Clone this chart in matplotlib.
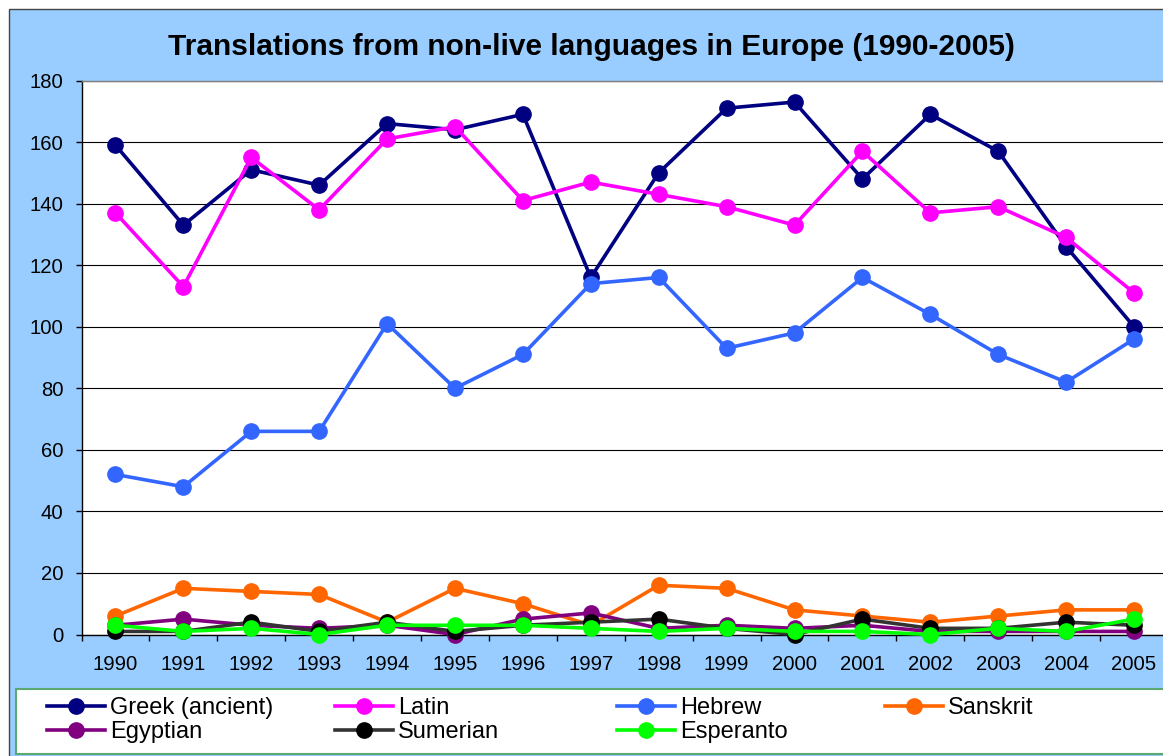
import matplotlib
matplotlib.use("Agg")
import matplotlib.pyplot as plt
from matplotlib.patches import Rectangle
import numpy as np

plt.rcParams['font.family'] = ['Liberation Sans', 'DejaVu Sans']

years = [str(y) for y in range(1990, 2006)]
greek = [159, 133, 151, 146, 166, 164, 169, 116, 150, 171, 173, 148, 169, 157, 126, 100]
latin = [137, 113, 155, 138, 161, 165, 141, 147, 143, 139, 133, 157, 137, 139, 129, 111]
hebrew = [52, 48, 66, 66, 101, 80, 91, 114, 116, 93, 98, 116, 104, 91, 82, 96]
sanskrit = [6, 15, 14, 13, 4, 15, 10, 3, 16, 15, 8, 6, 4, 6, 8, 8]
egyptian = [3, 5, 3, 2, 3, 0, 5, 7, 2, 3, 2, 3, 1, 1, 1, 1]
sumerian = [1, 1, 4, 1, 4, 1, 3, 4, 5, 2, 0, 5, 2, 2, 4, 3]
esperanto = [3, 1, 2, 0, 3, 3, 3, 2, 1, 2, 1, 1, 0, 2, 1, 5]

series_names = ["Greek (ancient)", "Latin", "Hebrew", "Sanskrit", "Egyptian", "Sumerian", "Esperanto"]
series_values = [greek, latin, hebrew, sanskrit, egyptian, sumerian, esperanto]
line_colors = ["#000080", "#FF00FF", "#3366FF", "#FF6600", "#800080", "#333333", "#00FF00"]
marker_colors = ["#000080", "#FF00FF", "#3366FF", "#FF6600", "#800080", "#000000", "#00FF00"]
yticks = [0, 20, 40, 60, 80, 100, 120, 140, 160, 180]
title = "Translations from non-live languages in Europe (1990-2005)"

W, H = 1163, 756
fig = plt.figure(figsize=(W / 100, H / 100), dpi=100)
fig.patch.set_facecolor("white")

# outer blue chart area
fig.patches.append(Rectangle((9 / W, -0.02), 1.1, (H - 9) / H + 0.02, transform=fig.transFigure,
                             facecolor="#99CCFF", edgecolor="#444444", linewidth=1.0, zorder=0))
# legend box
fig.patches.append(Rectangle((15.5 / W, (H - 754) / H), 1.1, (754 - 689) / H, transform=fig.transFigure,
                             facecolor="white", edgecolor="#5BA870", linewidth=1.5, zorder=1))

left, right, top, bottom = 81.5, 1168, 80.5, 634.5
ax = fig.add_axes([left / W, (H - bottom) / H, (right - left) / W, (bottom - top) / H])
ax.set_facecolor("white")
ax.set_zorder(3)

x = np.arange(len(years))
handles = []
for name, vals, lc, mc in zip(series_names, series_values, line_colors, marker_colors):
    h, = ax.plot(x, vals, color=lc, linewidth=2.6, marker="o", markersize=11,
                 markerfacecolor=mc, markeredgecolor=mc, clip_on=False, label=name, zorder=3)
    handles.append(h)

ax.set_xlim(-0.5, len(years) - 0.5)
ax.set_ylim(0, 180)
ax.set_yticks(yticks)
ax.set_yticklabels([str(v) for v in yticks])
ax.set_xticks(x)
ax.set_xticklabels(years)
ax.set_xticks(np.arange(-0.5, len(years), 1.0), minor=True)
ax.tick_params(axis="x", which="major", length=0, pad=14.5, labelsize=14.6)
ax.tick_params(axis="x", which="minor", length=4.5, width=1, direction="out", color="#000000")
ax.tick_params(axis="y", length=4.5, width=1, direction="out", pad=8.5, labelsize=14.6)
ax.yaxis.grid(True, color="#000000", linewidth=0.8, zorder=1)
ax.set_axisbelow(True)
for s in ["left", "bottom"]:
    ax.spines[s].set_color("#000000")
    ax.spines[s].set_linewidth(1.0)
for s in ["top", "right"]:
    ax.spines[s].set_color("#808080")
    ax.spines[s].set_linewidth(1.0)

fig.text(591 / W, 1 - 55 / H, title, ha="center", va="baseline", fontsize=21.5, fontweight="bold")

# legend in four columns
columns = [[0, 4], [1, 5], [2, 6], [3]]
col_x = [47, 335, 617, 885]
fs = 17
for idxs, cx in zip(columns, col_x):
    leg = fig.legend([handles[i] for i in idxs], [series_names[i] for i in idxs],
                     loc="upper left", bbox_to_anchor=(cx / W, 1 - 697 / H),
                     frameon=False, fontsize=fs, handlelength=58 / 23.6, handletextpad=0.2,
                     borderpad=0, borderaxespad=0, labelspacing=0.09, numpoints=1)
    leg.set_zorder(5)

fig.savefig("out.png", dpi=100, facecolor=fig.get_facecolor())
